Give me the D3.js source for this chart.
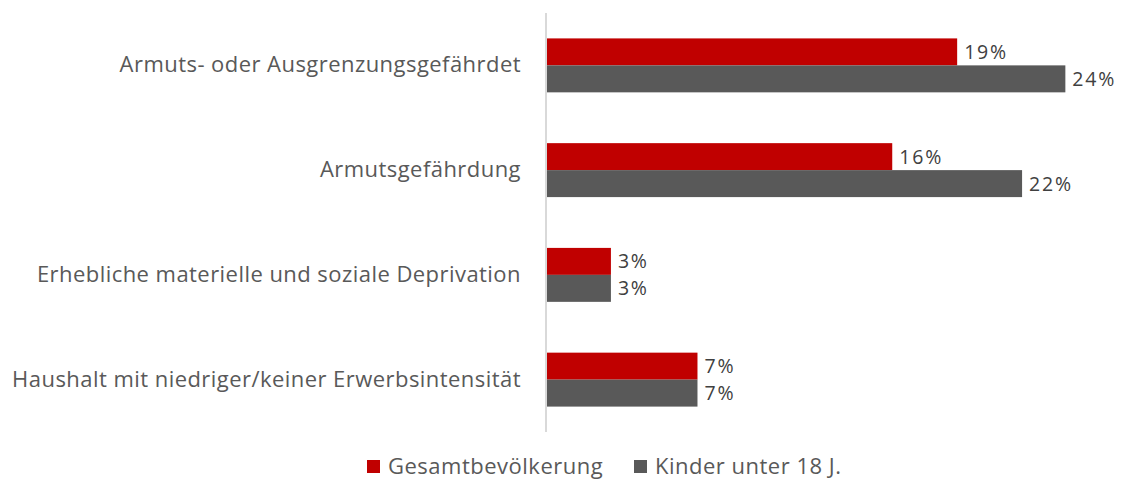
<!DOCTYPE html>
<html>
<head>
<meta charset="utf-8">
<script src="https://cdn.jsdelivr.net/npm/d3@7"></script>
<style>
  body { margin: 0; background: #fff; }
  svg { font-family: "Open Sans", "Noto Sans", sans-serif; }
</style>
</head>
<body>
<div id="chart"></div>
<script>
var categories = [
  "Armuts- oder Ausgrenzungsgefährdet",
  "Armutsgefährdung",
  "Erhebliche materielle und soziale Deprivation",
  "Haushalt mit niedriger/keiner Erwerbsintensität"
];
var seriesNames = ["Gesamtbevölkerung", "Kinder unter 18 J."];
var gesamt = [19, 16, 3, 7];
var kinder = [24, 22, 3, 7];
var colors = ["#c00000", "#595959"];

var width = 1124, height = 479;
var config = { top: 13, left: 546, bottom: 47 };

var datas = categories.map(function(c, i){
  return { label: c, values: [gesamt[i], kinder[i]] };
});

var svg = d3.select("#chart").append("svg")
    .attr("width", width)
    .attr("height", height);

// x scale: % to pixels
var x = d3.scaleLinear()
    .domain([0, 25])
    .range([config.left, config.left + 541]);

// one band per category
var y = d3.scaleBand()
    .domain(categories)
    .range([config.top, height - config.bottom])
    .paddingInner(0.485)
    .paddingOuter(0.2425);

var y1 = d3.scaleBand()
    .domain([0, 1])
    .range([0, y.bandwidth()]);

var groups = svg.selectAll(".grp")
  .data(datas)
  .enter().append("g")
  .attr("class", "grp")
  .attr("transform", function(d){ return "translate(0," + y(d.label) + ")"; });

groups.selectAll("rect")
  .data(function(d){ return d.values; })
  .enter().append("rect")
  .attr("x", x(0))
  .attr("y", function(d, i){ return y1(i); })
  .attr("height", y1.bandwidth())
  .attr("width", function(d){ return x(d) - x(0); })
  .attr("fill", function(d, i){ return colors[i]; });

//value labels right of bars
groups.selectAll("text.val")
  .data(function(d){ return d.values; })
  .enter().append("text")
  .attr("class", "val")
  .attr("x", function(d){ return x(d) + 7; })
  .attr("y", function(d, i){ return y1(i) + y1.bandwidth() / 2; })
  .attr("dy", "0.36em")
  .attr("font-size", 19.5)
  .attr("letter-spacing", 1.8)
  .attr("fill", "#404040")
  .text(function(d){ return d + "%"; });

// category axis
var gy = svg.append("g")
  .attr("transform", "translate(" + config.left + ",0)")
  .call(d3.axisLeft(y).tickSize(0).tickPadding(25));
gy.select(".domain").attr("stroke", "#d9d9d9").attr("stroke-width", 2)
  .attr("d", "M0," + config.top + "V" + (height - config.bottom));
gy.selectAll(".tick text")
  .attr("font-size", 22)
  .attr("letter-spacing", 0.45)
  .attr("font-family", "Open Sans, sans-serif")
  .attr("fill", "#595959");

// legend
var legendX = [367, 634];
var legend = svg.selectAll(".legend")
  .data(seriesNames)
  .enter().append("g")
  .attr("class", "legend")
  .attr("transform", function(d, i){ return "translate(" + legendX[i] + ",460)"; });
legend.append("rect")
  .attr("width", 13).attr("height", 13)
  .attr("fill", function(d, i){ return colors[i]; });
legend.append("text")
  .attr("x", 21).attr("y", 6.5).attr("dy", "0.35em")
  .attr("font-size", 22)
  .attr("letter-spacing", 0.5)
  .attr("fill", "#595959")
  .text(function(d){ return d; });
</script>
</body>
</html>
